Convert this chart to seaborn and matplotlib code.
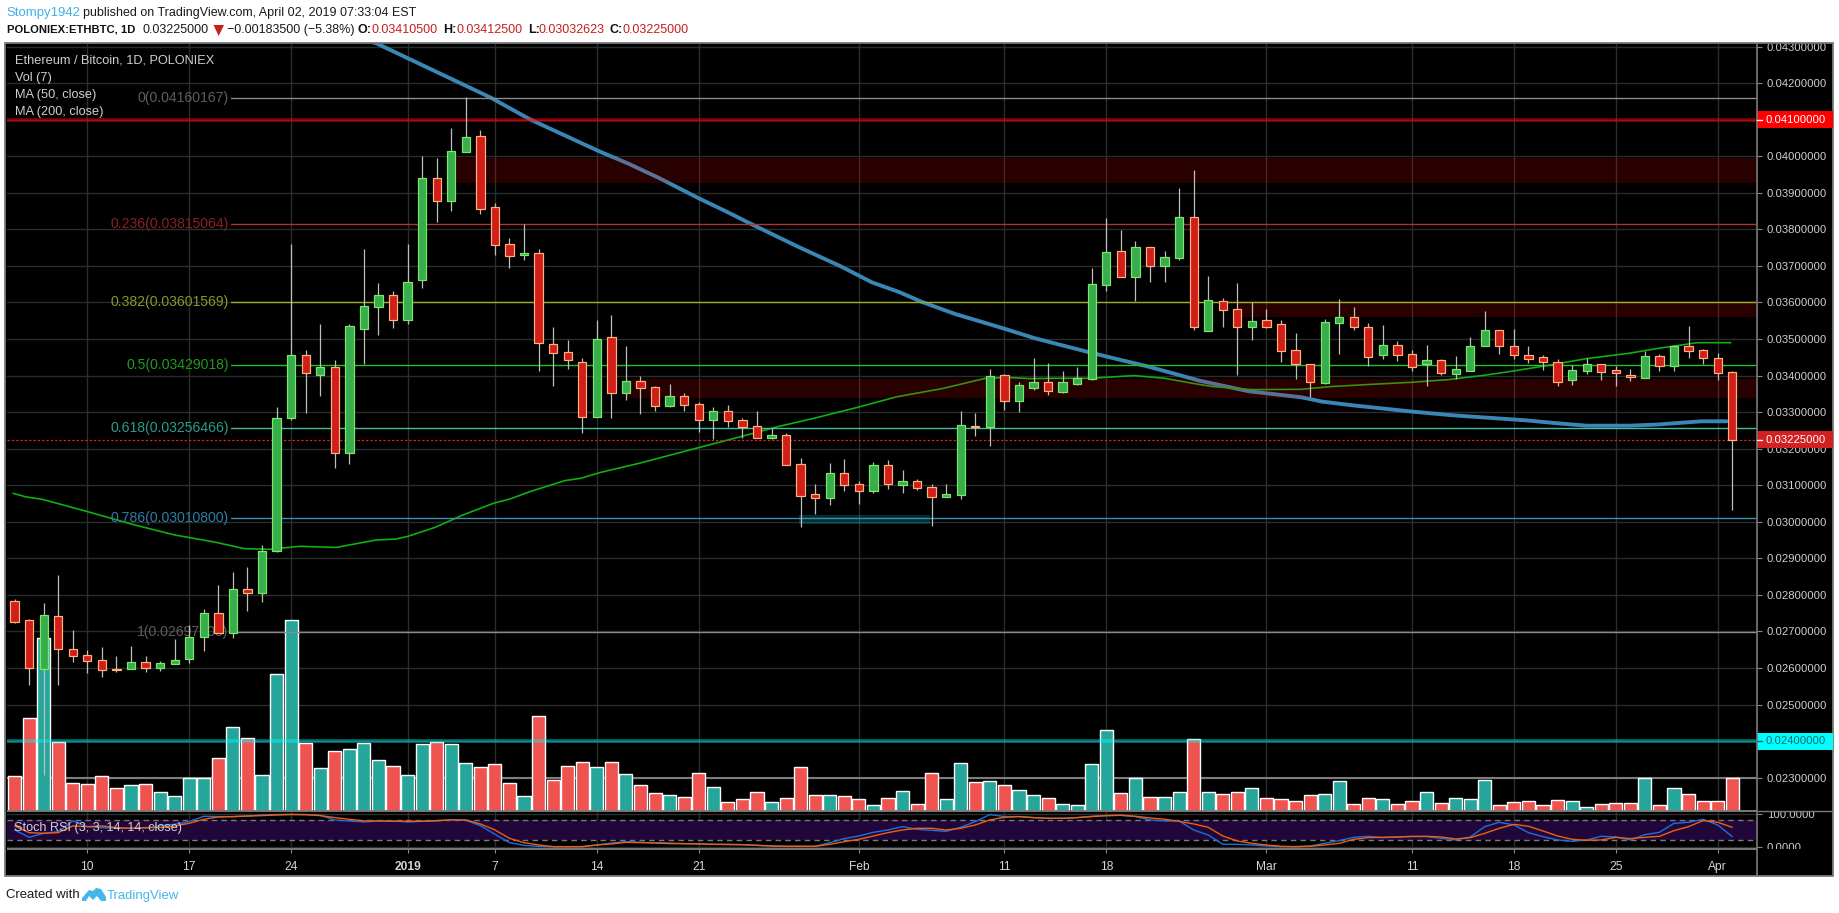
import numpy as np
import pandas as pd
import matplotlib
matplotlib.use("Agg")
import matplotlib.pyplot as plt
from matplotlib.patches import Polygon, Rectangle
from matplotlib.transforms import Bbox, TransformedBbox
import seaborn as sns

# Daily ETH/BTC candles, 2018-12-05 to 2019-04-02, prices in units of 1e-5 BTC.
opens = [2782.6,2730.6,2598,2741.5,2651,2635,2621,2597.4,2598,2615.6,2601,2612,2626,2686,2750,2697,2815,2806,2921,3285,
 3455.6,3402.7,3423,3189,3528.6,3588.8,3619.8,3553,3662.6,3940,3878.8,4012.8,4054.8,3860,3759,3731,3734.7,3485.7,3463.8,3438,
 3286,3504.9,3353.4,3384.4,3368,3317.9,3343.4,3321.5,3279.6,3302.4,3277.7,3261.3,3230,3236.7,3157.4,3075.3,3066,3132.7,3102.6,3085.3,
 3154.6,3101.7,3110.9,3094.4,3068.9,3074.4,3262.2,3258.6,3400.9,3331.6,3367,3381.7,3356,3378,3391.7,3649,3740,3670.8,3751,3700.9,
 3722.8,3833,3523,3603.3,3581.4,3534,3551.3,3540.4,3469.3,3431,3380.8,3545,3559.6,3532,3457.4,3483,3458.3,3431,3442,3405.4,
 3413.6,3482,3524,3480,3455.6,3450,3438,3389,3413.6,3431,3414.5,3400.9,3394.5,3452.8,3427.3,3480.2,3469.3,3447.4,3410.5]
closes = [2726.9,2601,2744,2653,2634,2620,2596,2594.6,2615.6,2601,2613,2621,2684,2750,2697,2815,2806,2919,3283,3455.6,
 3408,3423,3189,3536,3589.7,3619.8,3553,3655,3940,3878.8,4013.8,4052,3856.9,3758,3728,3734,3488,3461,3441.9,3286,
 3499.4,3353.5,3384.4,3367,3317.9,3343.4,3320.6,3279.6,3302.4,3276.8,3260.4,3230,3236.7,3156.5,3071.6,3066,3132.7,3101.7,3085.3,3154.6,
 3104.5,3110.9,3093.5,3068.9,3076.2,3264,3258.6,3398,3331.6,3373.5,3381.7,3358.9,3381.7,3392.7,3650.8,3737.4,3670.8,3751,3700.9,3723.7,
 3833,3534,3606,3580.5,3534,3548.6,3534,3468.4,3431,3383.5,3546,3559.6,3532,3452,3483,3457.4,3424.6,3442,3408,3417.3,
 3480,3524,3480.2,3455.6,3446.5,3438,3383.5,3414.5,3431,3411,3408,3397.2,3452.8,3427.3,3481,3468.4,3449,3408,3225]
highs = [2789,2733,2778,2854.6,2704,2649,2658,2633,2660,2633,2619,2679.5,2718,2761.6,2827,2863,2876.5,2937,3313,3759,
 3470,3541.3,3443,3541,3746.5,3653,3631.6,3760,4001,3995,4077.6,4161.5,4071,3871,3776.6,3815,3746.5,3533,3497.6,3448,
 3552,3566,3481,3399,3370.8,3376,3351.6,3329,3314,3319.7,3283,3303.3,3257.7,3243,3174.7,3103.6,3161,3172,3111.8,3163.7,
 3169,3141.9,3117,3103.6,3103.6,3303.3,3297.8,3418,3403.6,3382.6,3448.3,3434.6,3412.7,3423.7,3694.5,3831.3,3798.5,3768.4,3751,3741,
 3913.4,3962.7,3672.6,3612.5,3653.5,3602.4,3582,3552.3,3516.7,3431,3555,3609.7,3587.8,3544,3538.6,3494.8,3469.3,3483.9,3444.6,3453.8,
 3505.7,3576.9,3524,3527.6,3481,3456.5,3444.6,3430,3447.4,3431,3426.4,3418,3468.4,3459,3483.9,3535.8,3472,3462,3412.5]
lows = [2724,2554,2307,2554,2617,2587,2575,2590,2598,2589,2592,2612,2615,2647,2697,2682,2756,2781,2918,3279,
 3299,3345,3148,3159,3431.9,3512,3530,3542,3640.7,3821,3851,4012.8,3842,3730,3695,3716,3412.7,3371.7,3419,3244,
 3286,3285,3334.3,3296,3304,3315,3304,3246.7,3225.8,3259.5,3228.5,3230,3225.8,3156.5,2986.8,3021.5,3046,3084.4,3048.8,3079.8,
 3089.9,3078.9,3087,2988.6,3068.9,3062.5,3234.9,3207.5,3306,3300.5,3360.7,3347,3352.5,3374.4,3388,3631.6,3670.8,3603.3,3656.2,3656.2,
 3717.3,3525.8,3523,3534,3401.8,3497.5,3529.5,3437.3,3390.8,3342.5,3377,3459,3525.8,3426.4,3445.6,3440,3413.6,3371.7,3401.8,3390.8,
 3413.6,3482,3459,3446.5,3435.5,3416.4,3371.7,3374.4,3404.5,3388.1,3371.7,3385.4,3394.5,3412.7,3412.7,3448.3,3431,3388,3032.6]
volumes = [106,279,519,206,84,81,106,69,78,81,57,45,99,99,159,252,219,108,411,573,
 204,129,180,186,204,153,135,108,201,207,201,144,132,141,84,45,285,93,135,147,
 132,147,111,78,54,48,42,114,72,27,36,57,27,39,132,48,48,45,36,18,
 39,60,21,114,36,144,87,90,78,63,48,39,21,18,141,243,54,99,42,42,
 57,216,57,51,57,69,39,36,30,48,51,90,21,39,36,21,30,57,24,39,
 36,93,18,27,30,18,33,30,12,21,24,24,99,18,69,51,30,30,99]
first_day = -5  # Dec 5, counted in days from Dec 10
days = np.arange(first_day, first_day + len(opens))

ma200_days = [19,19.9,27.7,30.4,35.2,37.1,39.3,42,43.9,45.5,48.8,51.8,53.9,55.8,57.3,59.6,62.9,65.1,68.9,70.8,72.7,74.6,76.4,
 79.8,83.4,84.8,87.1,91,93.8,98.8,101,103,105.9,107.8,110.9,112.6]
ma200_vals = [4320,4308,4160.6,4101,4012.8,3981,3940,3885,3848.7,3816.7,3752.9,3698,3655,3628,3602,3568.7,3529.5,3502,3463,3444.6,3426.4,3406,3386,
 3357,3340.7,3329,3317.9,3301.5,3291.4,3277.7,3269.5,3263,3263,3266,3275,3275]
ma50_days = [-5.1,-4.2,-3.1,0,3.2,6,8.7,10.8,12.5,14.6,17.1,19.8,21.2,22,23.9,25.8,27.9,29,30.4,32.8,33.9,35.2,37.9,42,44.7,47.4,49.9,
 52.9,55.6,58.8,61.7,63.2,64.8,66.4,68.9,71.9,74,76.2,77.3,80,83.4,85.4,88.2,91,93.5,96,98,100.5,103,105.9,108.1,110.6,112.9]
ma50_vals = [3078,3068,3061.6,3028,2992,2964,2945,2926.6,2924.8,2933,2930,2950,2953,2960,2985,3018.7,3050.7,3062,3082.6,3112.7,3119,3134.6,3160,3203,3231,3260,3283,
 3313,3342,3365,3392.6,3395,3391.7,3392.6,3392.6,3400,3392.6,3377,3370,3361.6,3362.5,3369.9,3376,3381.7,3389,3401,3412.7,3429,3446.5,3461,3475.6,3490,3490]

stoch_k = [51,29,41,46,78,61,58,56,56,57,64,68,76,92,91,91,92,96,97,98,97,95,81,78,75,78,78,75,77,78,82,80,64,38,13,5,2,1,1,1,6,12,
 16,14,13,12,10,10,8,7,7,5,3,2,2,2,13,25,33,44,51,61,53,50,47,59,76,97,91,91,88,86,86,88,92,94,95,91,81,78,78,51,36,
 8,8,6,3,1,1,3,11,19,29,32,28,30,31,31,26,21,30,61,74,66,43,31,21,17,21,32,30,21,37,44,71,74,83,66,31]
stoch_d = [63,43,41,43,63,61,63,58,56,58,58,63,71,83,90,91,93,94,96,97,97,94,88,83,78,78,77,77,77,79,81,81,69,51,26,13,6,1,1,1,6,9,
 14,13,12,10,10,9,8,8,7,5,3,2,2,2,8,16,23,33,43,51,56,56,51,56,66,81,89,91,88,86,86,88,91,94,95,92,87,83,77,69,59,
 33,18,11,6,2,1,2,6,11,23,28,29,30,32,32,30,24,28,41,56,68,62,48,33,23,20,21,29,25,29,32,49,61,79,74,59]

tick_days = [0, 7, 14, 22, 28, 35, 42, 53, 63, 70, 81, 91, 98, 105, 112]
tick_text = ["10", "17", "24", "2019", "7", "14", "21", "Feb", "11", "18", "Mar", "11", "18", "25", "Apr"]

price_ticks = list(range(2300, 4301, 100))

fib_levels = [("0", 4160.167, "#8c8c8c", "#5e5e5e"), ("0.236", 3815.064, "#b53030", "#8c2020"),
              ("0.382", 3601.569, "#9aad2c", "#86982a"), ("0.5", 3429.018, "#22c322", "#1f9a1f"),
              ("0.618", 3256.466, "#3fbf9f", "#2b9d88"), ("0.786", 3010.800, "#3a8fb8", "#2b7fa6"),
              ("1", 2697.6, "#8c8c8c", "#5e5e5e")]
fib_values = ["0.04160167", "0.03815064", "0.03601569", "0.03429018", "0.03256466", "0.03010800", "0.02697608"]

resistance_zones = [(25.2, 3928, 3995), (37, 3338, 3390), (79, 3560, 3605)]
support_zone = (48.9, 57.9, 2993, 3019)

sns.set_theme(style="dark", rc={"axes.facecolor": "black", "figure.facecolor": "white"})
plt.rcParams["font.family"] = ["Liberation Sans", "DejaVu Sans"]

W, H = 1840, 913
fig = plt.figure(figsize=(W / 100, H / 100), dpi=100)
PX = 72 / 100  # points per pixel


def pane(x0, y0, x1, y1):
    return fig.add_axes([x0 / W, 1 - y1 / H, (x1 - x0) / W, (y1 - y0) / H])


LEFT, RIGHT, TOP, VOL_BOTTOM, STOCH_BOTTOM, BOTTOM = 6.7, 1757, 44, 811, 849, 876
XLIM = (-5.54, 114.7)

# Black backdrop spanning the whole chart frame.
overlay_back = pane(0, 0, W, H)
overlay_back.set(xlim=(0, W), ylim=(H, 0))
overlay_back.axis("off")
overlay_back.add_patch(Rectangle((5.5, 43.5), 1833 - 5.5, 876 - 43.5, fc="black", ec="#7a7a7a", lw=1.3))

ax = pane(LEFT, TOP, RIGHT, VOL_BOTTOM)
ax.set_xlim(*XLIM)
ax.set_ylim(2209, 4307)
ax.set_facecolor("black")
ax.set_axisbelow(True)

for s in ax.spines.values():
    s.set_visible(False)

GRID = "#2c2c2c"
ax.set_yticks(price_ticks)
ax.set_yticklabels([f"{p / 1e5:.8f}" for p in price_ticks])
ax.yaxis.tick_right()
ax.tick_params(axis="y", colors="#8a8a8a", labelcolor="#cfcfcf", length=5 * PX, width=0.8, pad=5 * PX,
               labelsize=11.2 * PX, right=True, left=False)
ax.set_xticks(tick_days)
ax.tick_params(axis="x", bottom=False, labelbottom=False)
ax.grid(True, color=GRID, lw=1.0)

# Horizontal reference levels drawn below the volume bars.
ax.axhline(2300, color="#7d7d7d", lw=1.5, zorder=1.5)

# Volume, on its own overlaid scale.
vax = ax.inset_axes([0, 0, 1, 1])
vax.patch.set_alpha(0)
vax.set_zorder(2)
direction = np.where(np.array(closes) >= np.array(opens), "up", "down")
vol_df = pd.DataFrame({"day": days, "volume": volumes, "dir": direction})
sns.barplot(data=vol_df, x="day", y="volume", hue="dir", palette={"up": "#26a69a", "down": "#ef5350"},
            dodge=False, native_scale=True, width=0.9, saturation=1, legend=False, ax=vax)
vax.set_xlim(*XLIM)
vax.set_ylim(0, (VOL_BOTTOM - TOP) * 3)
vax.axis("off")

# Everything above the volume goes on a transparent price layer.
pax = ax.inset_axes([0, 0, 1, 1])
pax.patch.set_alpha(0)
pax.set_zorder(3)

sns.lineplot(x=ma200_days, y=ma200_vals, color="#3a87b5", lw=3.1 * PX * 1.25, ax=pax, zorder=3, sort=False)
sns.lineplot(x=ma50_days, y=ma50_vals, color="#10b010", lw=1.5 * PX * 1.1, ax=pax, zorder=3, sort=False)
pax.set_xlim(*XLIM)
pax.set_ylim(2209, 4307)
pax.axis("off")

for x0, lo, hi in resistance_zones:
    pax.fill_between([x0, 114.6], lo, hi, color="red", alpha=0.165, lw=0, zorder=4)
x0, x1, lo, hi = support_zone
pax.fill_between([x0, x1], lo, hi, color="#00d8e8", alpha=0.22, lw=0, zorder=4)

# Strong horizontal levels with a soft halo.
for level, col, a in [(4100, "red", 0.42), (2400, "#00ffff", 0.35)]:
    pax.axhline(level, color=col, alpha=a, lw=4 * PX, zorder=4.5)
    pax.axhline(level, color=col, alpha=0.18, lw=1.5 * PX, zorder=4.5)

# Fibonacci retracement lines and their labels.
for (ratio, val, line_col, text_col), val_text in zip(fib_levels, fib_values):
    pax.plot([9.9, 114.6], [val, val], color=line_col, lw=1.15 * PX * 1.2, zorder=4.6)
    pax.text(9.7, val, f"{ratio}({val_text})", color=text_col, ha="right", va="center",
             fontsize=14 * PX, zorder=4.7)

# Last close.
pax.axhline(closes[-1], color="#e02020", lw=1 * PX * 1.2, ls=(0, (2, 1.6)), zorder=4.7)

# Candles: wicks first, then bodies.
wick_col = "#bdbdbd"
pax.vlines(days, lows, highs, color=wick_col, lw=1.05 * PX * 1.2, zorder=5)
up = np.array(closes) >= np.array(opens)
bottoms = np.minimum(opens, closes)
tops = np.maximum(opens, closes)
pax.bar(days[up], (tops - bottoms)[up], bottom=bottoms[up], width=0.57,
        color="#38ad4c", edgecolor="#7be86a", lw=1.2 * PX, zorder=6)
pax.bar(days[~up], (tops - bottoms)[~up], bottom=bottoms[~up], width=0.57,
        color="#d01f1a", edgecolor="#ffb27a", lw=1.2 * PX, zorder=6)

# Stochastic RSI pane.
sax = pane(LEFT, VOL_BOTTOM, RIGHT, STOCH_BOTTOM)
sax.set_facecolor("black")
sax.set_axisbelow(True)
for s in sax.spines.values():
    s.set_visible(False)
sns.lineplot(x=days, y=stoch_k, color="#1c6fe0", lw=1.4 * PX, ax=sax, zorder=3)
sns.lineplot(x=days, y=stoch_d, color="#ee5f10", lw=1.4 * PX, ax=sax, zorder=3.1)
sax.set_xlabel("")
sax.set_ylabel("")
sax.set_xlim(*XLIM)
sax.set_ylim(-6, 107.8)
sax.set_yticks([0, 100])
sax.set_yticklabels(["0.0000", "100.0000"])
sax.yaxis.tick_right()
sax.tick_params(axis="y", colors="#8a8a8a", labelcolor="#cfcfcf", length=5 * PX, width=0.8, pad=5 * PX,
                labelsize=11.2 * PX, right=True, left=False)
sax.set_xticks(tick_days)
sax.set_xticklabels(tick_text)
sax.tick_params(axis="x", colors="#8a8a8a", labelcolor="#d4d4d4", length=4 * PX, width=0.8, pad=8 * PX,
                labelsize=12 * PX, bottom=True)
for lbl, t in zip(sax.get_xticklabels(), tick_text):
    if t == "2019":
        lbl.set_fontweight("bold")
sax.grid(True, color=GRID, lw=1.0)
sax.axhspan(20, 80, color="#21063a", lw=0, zorder=1)
for lvl in (20, 80):
    sax.axhline(lvl, color="#7a7a7a", lw=1.0, ls=(0, (4, 3)), zorder=1.5)
sax.text(0.0044, 0.56, "Stoch RSI (3, 3, 14, 14, close)", transform=sax.transAxes, color="#d0d0d0",
         fontsize=12.6 * PX, va="center", zorder=5)

# Foreground layer in pixel coordinates: frames, price flags, headings.
top = pane(0, 0, W, H)
top.set(xlim=(0, W), ylim=(H, 0))
top.axis("off")
top.patch.set_alpha(0)
top.set_zorder(10)

# Keep axis labels inside their panes.
right_main = TransformedBbox(Bbox([[RIGHT, TOP], [1833, VOL_BOTTOM + 1]]), top.transData)
right_stoch = TransformedBbox(Bbox([[RIGHT, VOL_BOTTOM], [1833, STOCH_BOTTOM]]), top.transData)
for lbl in ax.get_yticklabels():
    lbl.set_clip_box(right_main)
    lbl.set_clip_on(True)
for lbl in sax.get_yticklabels():
    lbl.set_clip_box(right_stoch)
    lbl.set_clip_on(True)

for yy in (VOL_BOTTOM, STOCH_BOTTOM):
    top.plot([LEFT, RIGHT], [yy, yy], color="#7a7a7a", lw=1.4, solid_capstyle="butt")
top.plot([RIGHT, 1833], [VOL_BOTTOM, VOL_BOTTOM], color="#7a7a7a", lw=1.0, solid_capstyle="butt")
top.plot([RIGHT, RIGHT], [TOP, BOTTOM], color="#7a7a7a", lw=1.2, solid_capstyle="butt")


# Price flags on the scale.
def flag(val_y, text, face, ink):
    top.add_patch(Rectangle((RIGHT, val_y - 8.6), 1833 - RIGHT, 17.2, fc=face, ec="none"))
    top.plot([RIGHT, RIGHT + 5], [val_y, val_y], color="white" if ink == "white" else "#0a6a6a", lw=1)
    top.text(1766, val_y + 0.2, text, color=ink, fontsize=11.2 * PX, va="center", ha="left")


def price_y(p):
    return 46.7 + (4300 - p) * 0.3655


flag(price_y(4100), "0.04100000", "#ff0000", "white")
flag(price_y(closes[-1]), "0.03225000", "#d32020", "white")
flag(price_y(2400), "0.02400000", "#00ffff", "#0a6a6a")

# Pane legend.
LEG = "#cfcfcf"
for yy, s in [(60.7, "Ethereum / Bitcoin, 1D, POLONIEX"), (77.7, "Vol (7)"), (95, "MA (50, close)"), (112, "MA (200, close)")]:
    top.text(15, yy, s, color=LEG, fontsize=12.8 * PX, va="center", ha="left")

# Heading above the chart.
HEAD = 12.5 * PX
BOLD_LONG = 11.2 * PX
top.text(6, 12.7, "Stompy1942", color="#3fb1ea", fontsize=13.1 * PX, va="center")
top.text(83, 12.7, "published on TradingView.com, April 02, 2019 07:33:04 EST", color="#1a1a1a", fontsize=HEAD, va="center")
row = [(6.7, "POLONIEX:ETHBTC, 1D", "#111111", "bold", BOLD_LONG), (143, "0.03225000", "#1a1a1a", "normal", HEAD),
       (227, "\u22120.00183500 (\u22125.38%)", "#1a1a1a", "normal", HEAD),
       (358, "O:", "#111111", "bold", HEAD), (372, "0.03410500", "#c4201d", "normal", HEAD),
       (443, "H:", "#111111", "bold", HEAD), (457, "0.03412500", "#c4201d", "normal", HEAD),
       (528, "L:", "#111111", "bold", HEAD), (539, "0.03032623", "#c4201d", "normal", HEAD),
       (610, "C:", "#111111", "bold", HEAD), (623, "0.03225000", "#c4201d", "normal", HEAD)]
for xx, s, c, w, fs in row:
    top.text(xx, 29.6, s, color=c, fontsize=fs, fontweight=w, va="center")
top.add_patch(Polygon([[213.5, 25], [224, 25], [218.7, 36]], closed=True, fc="#c4201d", ec="none"))

# Footer with wordmark.
top.text(6, 895.5, "Created with", color="#1a1a1a", fontsize=13.1 * PX, va="center")
top.add_patch(Polygon([[82, 898], [89, 890], [93, 891], [96, 888], [101, 889], [106, 897], [106, 901], [101, 901], [97, 896], [93, 900],
                       [89, 896], [86, 901], [82, 901]], closed=True, fc="#46b5ea", ec="none"))
top.text(107, 895.5, "TradingView", color="#46b5ea", fontsize=13.1 * PX, va="center")

fig.savefig("out.png", dpi=100, facecolor="white")
